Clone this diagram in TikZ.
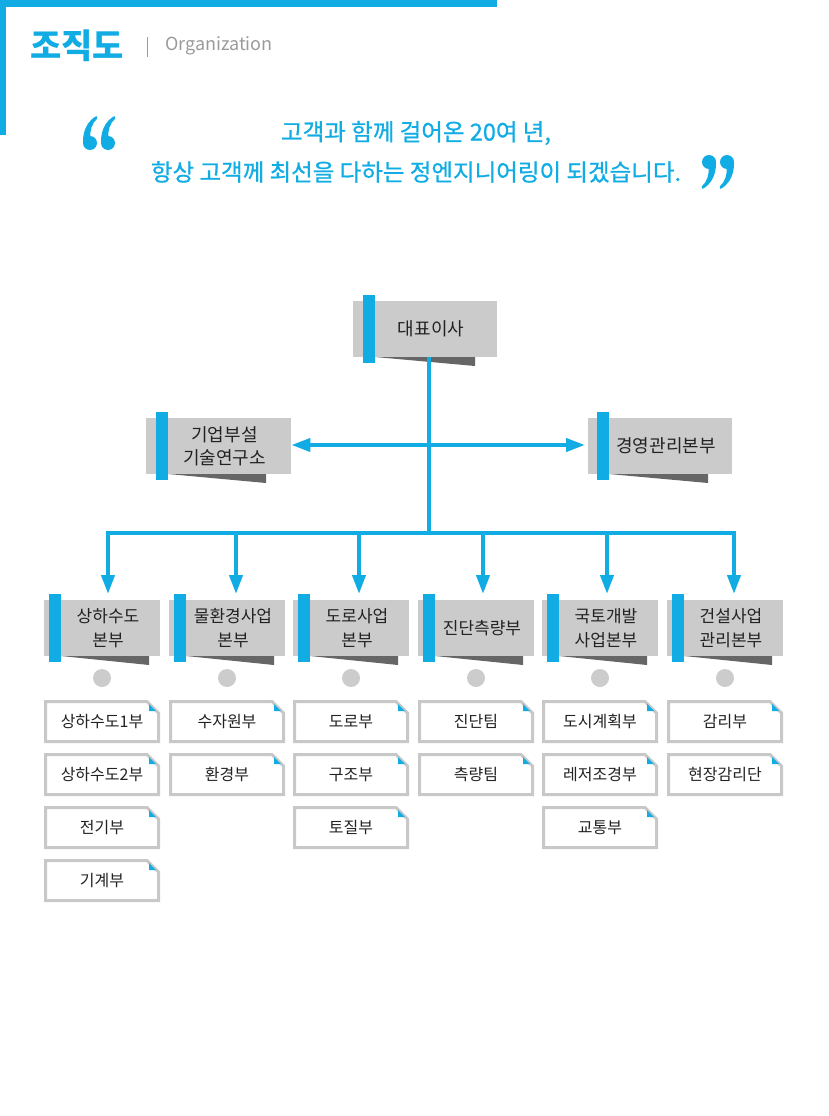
\documentclass[tikz,border=0pt]{standalone}
\usepackage{fontspec}
\setmainfont{Noto Sans CJK KR}
\newfontfamily\qfont{Noto Sans CJK KR}[FakeBold=0.8]
\usetikzlibrary{arrows.meta}
\definecolor{cyanc}{HTML}{10ACE3}
\definecolor{boxgray}{HTML}{CBCBCB}
\definecolor{shadowc}{HTML}{666666}
\definecolor{dotc}{HTML}{CCCCCC}
\definecolor{teamc}{HTML}{C8C8C8}
\definecolor{txt}{HTML}{222222}
\definecolor{greyt}{HTML}{9A9A9A}

\newcommand\orgbox[8]{%
  \fill[shadowc] (#6+12,#5) -- (#7,#5) -- (#7,#5+9) -- cycle;
  \node[box, anchor=north west, minimum width=#4pt-#2pt, minimum height=#5pt-#3pt] (#1) at (#2,#3) {};
  \fill[cyanc] (#6,#3-6) rectangle (#6+12,#5+6);
  \node[lbl] (#1t) at ({(#2+#4)/2+6},{(#3+#5)/2}) {#8};%
}
\newcommand\teambox[4]{%
  \draw[teamline] (#2+1.5,#3+1.5) -- (#2+103,#3+1.5) -- (#2+114.5,#3+13) -- (#2+114.5,#3+41.5) -- (#2+1.5,#3+41.5) -- cycle;
  \fill[cyanc] (#2+105,#3+4) -- (#2+105,#3+11) -- (#2+112,#3+11) -- cycle;
  \node[tlbl] (#1) at (#2+58,#3+21.5) {#4};%
}

\begin{document}
\begin{tikzpicture}[x=1pt,y=-1pt,
  box/.style={fill=boxgray, draw=none, inner sep=0pt},
  lblfont/.style={font=\fontsize{18}{23}\selectfont},
  lbl/.style={lblfont, text=txt, align=center, inner sep=0pt},
  tlbl/.style={font=\fontsize{16}{18}\selectfont, text=txt, inner sep=0pt},
  teamline/.style={draw=teamc, line width=3pt, fill=white, line join=miter},
  conn/.style={draw=cyanc, line width=4pt},
  tip/.style={-{Triangle[length=19pt,width=13pt]}},
  dot/.style={circle, fill=dotc, minimum size=18pt, inner sep=0pt},
  qtext/.style={font=\qfont\fontsize{23.5}{26}\selectfont, text=cyanc, inner sep=0pt},
  qm/.pic={
    \fill[cyanc] (0,0) circle (7);
    \fill[cyanc] (-7,0) .. controls (-7.5,-14) and (-1,-23) .. (6.5,-27)
      -- (7.3,-24.5) .. controls (2,-20) and (-0.5,-12) .. (0.5,-5) -- cycle;
  }
]
\useasboundingbox (0,0) rectangle (828,1116);

% header
\fill[cyanc] (0,0) rectangle (497,7);
\fill[cyanc] (0,0) rectangle (6,135);
\node[anchor=west, text=cyanc, font=\fontsize{34}{34}\selectfont\bfseries, inner sep=0pt] (title) at (30,46) {조직도};
\draw[greyt, line width=1pt] (147,37) -- (147,57);
\node[anchor=west, text=greyt, font=\fontsize{18}{18}\selectfont, inner sep=0pt] (org) at (165,46) {Organization};

% quote
\pic at (90,143) {qm};
\pic at (108,143) {qm};
\pic[rotate=180] at (727,162) {qm};
\pic[rotate=180] at (709,162) {qm};
\node[qtext] (q1) at (416,133) {고객과 함께 걸어온 20여 년,};
\node[qtext] (q2) at (416,172) {항상 고객께 최선을 다하는 정엔지니어링이 되겠습니다.};

% top level
\orgbox{ceo}{353}{301}{497}{357}{363}{475}{대표이사}
\orgbox{lab}{146}{418}{291}{474}{156}{266}{기업부설\\기술연구소}
\orgbox{mgmt}{588}{418}{732}{474}{597}{708}{경영관리본부}

\coordinate (j) at (429,533);
\coordinate (h) at (429,445);
\draw[conn] (ceo.south -| j) -- (j);
\draw[conn, {Triangle[length=19pt,width=13pt]}-{Triangle[length=19pt,width=13pt]}, shorten >=3pt] (lab.east |- h) -- (mgmt.west |- h);

% departments
\begin{scope}[lblfont/.style={font=\fontsize{17}{24}\selectfont}]
\orgbox{d1}{44}{600}{160}{656}{49}{149}{상하수도\\본부}
\orgbox{d2}{169}{600}{285}{656}{174}{274}{물환경사업\\본부}
\orgbox{d3}{293}{600}{409}{656}{298}{398}{도로사업\\본부}
\orgbox{d4}{418}{600}{534}{656}{423}{523}{진단측량부}
\orgbox{d5}{542}{600}{658}{656}{547}{647}{국토개발\\사업본부}
\orgbox{d6}{667}{600}{783}{656}{672}{772}{건설사업\\관리본부}
\end{scope}

\coordinate (b1) at (108,533);
\coordinate (b2) at (236,533);
\coordinate (b3) at (359,533);
\coordinate (b4) at (483,533);
\coordinate (b5) at (607,533);
\coordinate (b6) at (734,533);
\draw[conn, line cap=rect] (b1) -- (b6);
\foreach \i in {1,...,6}{
  \draw[conn, tip, shorten >=6pt] (b\i) -- (b\i |- d\i.north);
}

% dots
\foreach \i/\x in {1/102,2/227,3/351,4/476,5/600,6/725}{
  \node[dot] (c\i) at (\x,678) {};
}

% teams
\teambox{t11}{44}{700}{상하수도1부}
\teambox{t12}{44}{753}{상하수도2부}
\teambox{t13}{44}{806}{전기부}
\teambox{t14}{44}{859}{기계부}
\teambox{t21}{169}{700}{수자원부}
\teambox{t22}{169}{753}{환경부}
\teambox{t31}{293}{700}{도로부}
\teambox{t32}{293}{753}{구조부}
\teambox{t33}{293}{806}{토질부}
\teambox{t41}{418}{700}{진단팀}
\teambox{t42}{418}{753}{측량팀}
\teambox{t51}{542}{700}{도시계획부}
\teambox{t52}{542}{753}{레저조경부}
\teambox{t53}{542}{806}{교통부}
\teambox{t61}{667}{700}{감리부}
\teambox{t62}{667}{753}{현장감리단}
\end{tikzpicture}
\end{document}
